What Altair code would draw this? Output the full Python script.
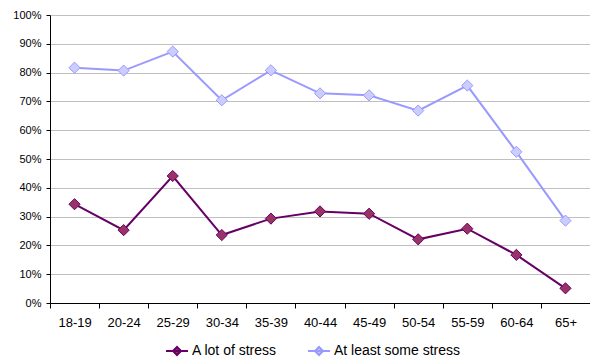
import altair as alt
import pandas as pd

# Share of respondents reporting stress, by age group
ages = ["18-19", "20-24", "25-29", "30-34", "35-39", "40-44",
        "45-49", "50-54", "55-59", "60-64", "65+"]
a_lot_of_stress = [34.3, 25.3, 44.1, 23.6, 29.3, 31.8, 31.0, 22.1, 25.8, 16.7, 5.1]
at_least_some_stress = [81.7, 80.7, 87.3, 70.4, 80.8, 72.8, 72.1, 66.8, 75.5, 52.5, 28.6]

series_names = ["A lot of stress", "At least some stress"]
line_colors = ["#660066", "#9999FF"]
fill_colors = ["#993366", "#CCCCFF"]
y_ticks = [0, 0.1, 0.2, 0.3, 0.4, 0.5, 0.6, 0.7, 0.8, 0.9, 1.0]

rows = []
for name, values in zip(series_names, [a_lot_of_stress, at_least_some_stress]):
    for age, v in zip(ages, values):
        rows.append({"age": age, "series": name, "value": v / 100})
df = pd.DataFrame(rows)

FONT = "Liberation Sans"

x = alt.X(
    "age:N",
    sort=ages,
    bandPosition=0.5,
    scale=alt.Scale(type="band", paddingInner=0, paddingOuter=0),
    axis=alt.Axis(
        title=None, grid=False, tickBand="extent", labelAngle=0,
        domainColor="black", tickColor="black", tickSize=5,
        labelPadding=8, labelFontSize=13, labelColor="black", labelFont=FONT,
    ),
)
y = alt.Y(
    "value:Q",
    scale=alt.Scale(domain=[0, 1]),
    axis=alt.Axis(
        title=None, format=".0%", values=y_ticks, grid=True,
        gridColor="#c0c0c0", gridWidth=1,
        domainColor="black", tickColor="black", tickSize=4,
        labelPadding=5, labelFontSize=11, labelColor="black", labelFont=FONT,
    ),
)

legend = alt.Legend(
    title=None, orient="none", direction="horizontal",
    legendX=120, legendY=329,
    labelFontSize=14, labelFont=FONT, labelColor="black",
    symbolType="M-2.75,0L2.75,0M-1,0L0,-1L1,0L0,1Z",
    symbolSize=64, symbolStrokeWidth=2, symbolOpacity=1,
    labelOffset=8, columnPadding=27,
)

stroke_enc = alt.Stroke(
    "series:N", sort=series_names,
    scale=alt.Scale(domain=series_names, range=line_colors),
    legend=legend,
)
fill_enc = alt.Fill(
    "series:N", sort=series_names,
    scale=alt.Scale(domain=series_names, range=fill_colors),
    legend=legend,
)

lines = alt.Chart(df).mark_line(strokeWidth=2).encode(
    x=x, y=y, stroke=stroke_enc, detail="series:N"
)
points = alt.Chart(df).mark_point(
    shape="diamond", filled=True, size=125, strokeWidth=1, opacity=1
).encode(x=x, y=y, fill=fill_enc, stroke=stroke_enc)

chart = (
    alt.layer(lines, points)
    .properties(
        width=540, height=288, autosize="none",
        padding={"left": 50, "top": 15, "right": 0, "bottom": 60},
        background="white",
    )
    .configure_view(stroke=None)
)

chart.save("out.html", embed_options={"renderer": "svg", "actions": False})
